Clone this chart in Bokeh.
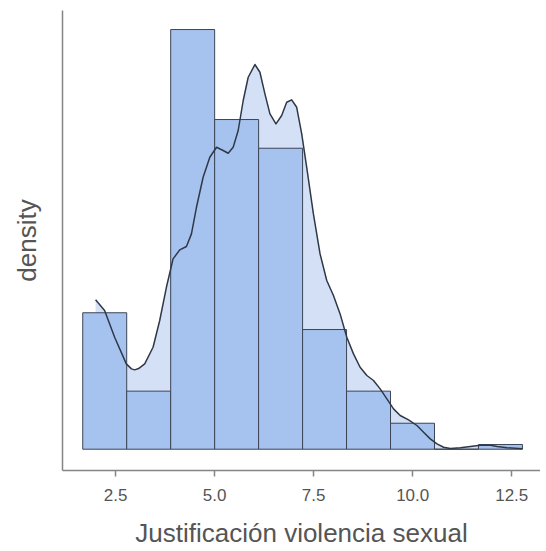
from bokeh.plotting import figure
from bokeh.models import Range1d, FixedTicker
from bokeh.embed import file_html
from bokeh.resources import INLINE

# Histogram (density scale)
bin_left = [1.67, 2.78, 3.89, 5.00, 6.11, 7.22, 8.33, 9.44, 10.55, 11.66]
bin_right = [2.78, 3.89, 5.00, 6.11, 7.22, 8.33, 9.44, 10.55, 11.66, 12.77]
bin_density = [0.0846, 0.0360, 0.2602, 0.2044, 0.1866, 0.0742, 0.0360, 0.0161, 0.0, 0.0029]

# Kernel density estimate
kde_x = [1.994, 2.222, 2.475, 2.770, 2.900, 2.981, 3.080, 3.234, 3.445, 3.613, 3.782, 3.950,
         4.119, 4.288, 4.414, 4.541, 4.709, 4.878, 5.047, 5.215, 5.341, 5.468,
         5.594, 5.721, 5.847, 6.016, 6.143, 6.269, 6.396, 6.548, 6.692, 6.818,
         6.945, 7.071, 7.198, 7.324, 7.493, 7.661, 7.830, 7.999, 8.167, 8.336,
         8.505, 8.672, 8.842, 9.010, 9.179, 9.348, 9.516, 9.684, 9.895, 10.107,
         10.274, 10.443, 10.613, 10.780, 10.949, 11.202, 11.455, 11.708, 11.961,
         12.130, 12.383, 12.770]
kde_y = [0.0926, 0.0860, 0.0694, 0.0529, 0.0498, 0.0492, 0.0500, 0.0529, 0.0632, 0.0798, 0.1004, 0.1180,
         0.1236, 0.1257, 0.1335, 0.1500, 0.1686, 0.1810, 0.1872, 0.1852, 0.1835, 0.1872,
         0.1976, 0.2162, 0.2306, 0.2385, 0.2337, 0.2203, 0.2079, 0.2017, 0.2069, 0.2151,
         0.2166, 0.2120, 0.1955, 0.1748, 0.1459, 0.1211, 0.1046, 0.0953, 0.0839, 0.0694,
         0.0591, 0.0508, 0.0457, 0.0426, 0.0374, 0.0312, 0.0250, 0.0209, 0.0182, 0.0147,
         0.0105, 0.0064, 0.0033, 0.0012, 0.0004, 0.0009, 0.0017, 0.0025, 0.0025,
         0.0017, 0.0009, 0.0003]

x_ticks = [2.5, 5.0, 7.5, 10.0, 12.5]

FONT = "Liberation Sans"

p = figure(width=540, height=551, output_backend="svg", toolbar_location=None,
           x_range=Range1d(1.159, 13.226), y_range=Range1d(-0.0132, 0.272),
           min_border_left=62, min_border_right=0, min_border_top=10,
           min_border_bottom=81)
p.outline_line_color = None
p.grid.visible = False
p.background_fill_color = "white"

p.varea(x=kde_x, y1=0, y2=kde_y, fill_color="#d4e0f5", fill_alpha=1.0)
p.quad(left=bin_left, right=bin_right, bottom=0, top=bin_density,
       fill_color="#a6c3ef", line_color="#3b4455", line_width=1)
p.line(kde_x, kde_y, line_color="#2f3847", line_width=1.5, line_join="round")

xa = p.xaxis[0]
xa.ticker = FixedTicker(ticks=x_ticks)
xa.major_label_overrides = {2.5: "2.5", 5.0: "5.0", 7.5: "7.5", 10.0: "10.0", 12.5: "12.5"}
xa.axis_label = "Justificación violencia sexual"
xa.axis_line_color = "#858585"
xa.axis_line_width = 1.5
xa.major_tick_line_color = "#858585"
xa.major_tick_line_width = 1.5
xa.major_tick_out = 6
xa.major_tick_in = 0
xa.minor_tick_line_color = None
xa.major_label_text_font = FONT
xa.major_label_text_font_size = "17px"
xa.major_label_text_color = "#555555"
xa.major_label_standoff = 12
xa.axis_label_text_font = FONT
xa.axis_label_text_font_size = "26px"
xa.axis_label_text_font_style = "normal"
xa.axis_label_text_color = "#555555"
xa.axis_label_standoff = 14

ya = p.yaxis[0]
ya.ticker = FixedTicker(ticks=[])
ya.axis_label = "density"
ya.axis_line_color = "#858585"
ya.axis_line_width = 1.5
ya.major_tick_line_color = None
ya.minor_tick_line_color = None
ya.major_label_text_font_size = "0px"
ya.major_tick_out = 0
ya.major_label_standoff = 0
ya.axis_label_text_font = FONT
ya.axis_label_text_font_size = "26px"
ya.axis_label_text_font_style = "normal"
ya.axis_label_text_color = "#555555"
ya.axis_label_standoff = 21

open("out.html", "w").write(file_html(p, INLINE))
